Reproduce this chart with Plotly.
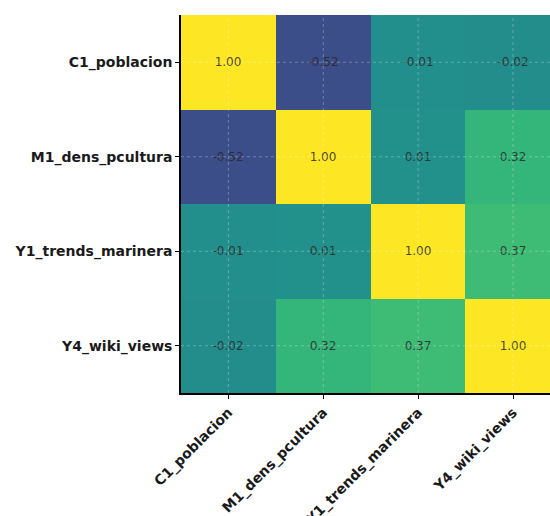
import plotly.graph_objects as go

labels = ["C1_poblacion", "M1_dens_pcultura", "Y1_trends_marinera", "Y4_wiki_views"]
corr = [
    [1.00, -0.52, -0.01, -0.02],
    [-0.52, 1.00, 0.01, 0.32],
    [-0.01, 0.01, 1.00, 0.37],
    [-0.02, 0.32, 0.37, 1.00],
]

idx = list(range(len(labels)))

fig = go.Figure(
    go.Heatmap(
        z=corr,
        x=idx,
        y=idx,
        colorscale="Viridis",
        zmin=-1,
        zmax=1,
        showscale=False,
        texttemplate="%{z:.2f}",
        textfont=dict(family="DejaVu Sans", size=12, color="rgba(40,40,40,0.85)"),
        hoverinfo="skip",
    )
)

shapes = []
grid_line = dict(color="rgba(255,255,255,0.28)", width=1, dash="3px,3px")
for i in idx:
    shapes.append(dict(type="line", xref="x", yref="paper", x0=i, x1=i, y0=0, y1=1,
                       line=grid_line, layer="above"))
    shapes.append(dict(type="line", xref="paper", yref="y", x0=0, x1=1, y0=i, y1=i,
                       line=grid_line, layer="above"))

fig.update_layout(
    width=550,
    height=516,
    margin=dict(l=181, r=0, t=15, b=123, autoexpand=False),
    paper_bgcolor="white",
    plot_bgcolor="white",
    shapes=shapes,
    font=dict(family="DejaVu Sans", color="#1a1a1a"),
)

fig.update_xaxes(
    automargin=False,
    tickmode="array",
    tickvals=idx,
    ticktext=["<b>%s</b>" % s for s in labels],
    tickangle=-45,
    tickfont=dict(family="DejaVu Sans", size=14, color="#1a1a1a"),
    range=[-0.5, 3.39],
    showgrid=False,
    zeroline=False,
    showline=True,
    linecolor="black",
    linewidth=1.5,
    ticks="outside",
    ticklen=4,
    tickcolor="black",
)
fig.update_yaxes(
    automargin=False,
    tickmode="array",
    tickvals=idx,
    ticktext=["<b>%s</b>" % s for s in labels],
    tickfont=dict(family="DejaVu Sans", size=14, color="#1a1a1a"),
    range=[3.5, -0.5],
    showgrid=False,
    zeroline=False,
    showline=True,
    linecolor="black",
    linewidth=1.5,
    ticks="outside",
    ticklen=4,
    tickcolor="black",
)

fig.write_html(
    "out.html",
    config={"displayModeBar": False},
    post_script="document.body.style.margin='0';document.body.style.overflow='hidden';",
)
